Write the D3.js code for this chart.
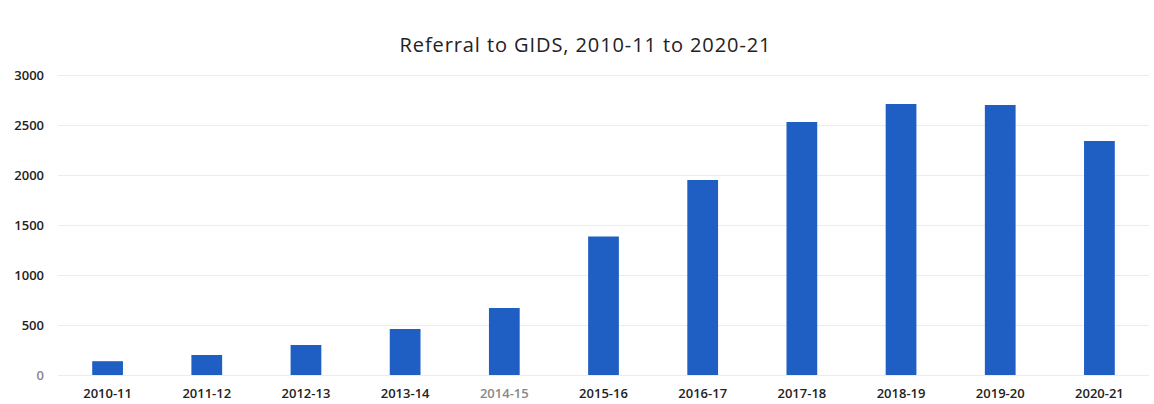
<!DOCTYPE html>
<html><head><meta charset="utf-8">
<script src="https://cdn.jsdelivr.net/npm/d3@7"></script>
<style>body{margin:0;background:#fff;} svg{display:block;}</style>
</head><body>
<svg id="chart" width="1154" height="404"></svg>
<script>
const categories = ["2010-11","2011-12","2012-13","2013-14","2014-15","2015-16","2016-17","2017-18","2018-19","2019-20","2020-21"];
const referrals = [138, 200, 300, 460, 670, 1385, 1950, 2530, 2710, 2700, 2340];
const yTicks = [0, 500, 1000, 1500, 2000, 2500, 3000];
const titleText = "Referral to GIDS, 2010-11 to 2020-21";

const svg = d3.select("#chart");
const margin = {left: 58, right: 5, top: 75, bottom: 29};
const W = 1154, H = 404;

const x = d3.scaleBand().domain(categories).range([margin.left, W - margin.right]).paddingInner(0.69).paddingOuter(0.345);
const y = d3.scaleLinear().domain([0, 3000]).range([H - margin.bottom, margin.top]);

// gridlines
svg.append("g").attr("transform", `translate(${margin.left},0)`)
  .call(d3.axisLeft(y).tickValues(yTicks).tickSize(-(W - margin.right - margin.left)).tickFormat(""))
  .call(g => g.select(".domain").remove())
  .call(g => g.selectAll("line").attr("stroke", "#ececec").attr("stroke-width", 1));

// y labels
svg.append("g").attr("transform", `translate(44,0)`)
  .call(d3.axisLeft(y).tickValues(yTicks).tickSize(0).tickPadding(0).tickFormat(d3.format("d")))
  .call(g => g.select(".domain").remove())
  .call(g => g.selectAll("text").attr("font-family", "Open Sans, sans-serif").attr("font-size", 13)
     .attr("fill", d => d === 0 ? "#888" : "#222").attr("font-weight", 600));

// bars
svg.append("g").selectAll("rect").data(categories).join("rect")
  .attr("x", d => x(d)).attr("width", x.bandwidth())
  .attr("y", (d, i) => y(referrals[i])).attr("height", (d, i) => y(0) - y(referrals[i]))
  .attr("fill", "#1f5fc3");

// x labels
svg.append("g").attr("transform", `translate(0,${y(0) + 14})`)
  .call(d3.axisBottom(x).tickSize(0).tickPadding(0))
  .call(g => g.select(".domain").remove())
  .call(g => g.selectAll("text").attr("font-family", "Open Sans, sans-serif").attr("font-size", 13)
     .attr("font-weight", 600).attr("fill", d => d === "2014-15" ? "#888" : "#222"));

svg.append("text").attr("x", 585).attr("y", 52).attr("text-anchor", "middle")
  .attr("font-family", "Open Sans, sans-serif").attr("font-size", 20).attr("fill", "#222")
  .attr("textLength", 371).attr("lengthAdjust", "spacing")
  .text(titleText);
</script>
</body></html>
